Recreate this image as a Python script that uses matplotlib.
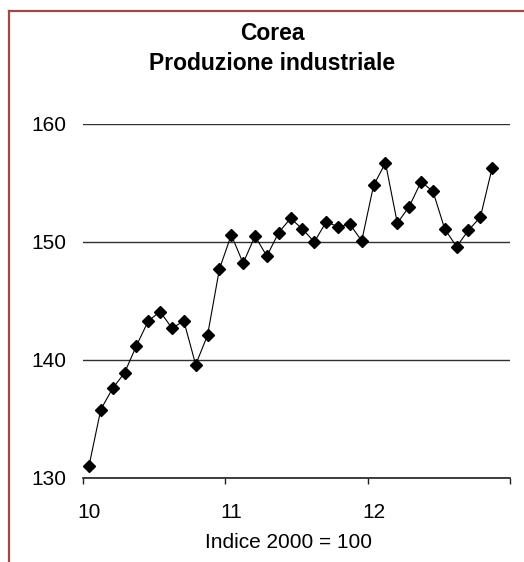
import numpy as np
import matplotlib.pyplot as plt
from matplotlib.lines import Line2D

plt.rcParams['font.family'] = ['Liberation Sans', 'DejaVu Sans']

# Produzione industriale Corea, dati mensili 2010-2012 (indice 2000 = 100)
valori = [131.0, 135.8, 137.6, 138.9, 141.2, 143.3, 144.1, 142.7, 143.3, 139.6, 142.1, 147.7,
          150.6, 148.2, 150.5, 148.8, 150.8, 152.0, 151.1, 150.0, 151.7, 151.3, 151.5, 150.1,
          154.8, 156.7, 151.6, 153.0, 155.1, 154.3, 151.1, 149.6, 151.0, 152.1, 156.3]
anni = ["10", "11", "12"]
mesi_per_anno = 12

fig = plt.figure(figsize=(5.24, 5.62), dpi=100)
ax = fig.add_axes([0.1584, 0.1495, 0.8149, 0.6299])

x = np.arange(len(valori))
ax.plot(x, valori, color='black', lw=0.8, marker='D', markersize=6,
        markerfacecolor='black', markeredgecolor='black', zorder=3)

n_cat = mesi_per_anno * len(anni)
ax.set_xlim(-0.5, n_cat - 0.5)
ax.set_ylim(130, 160)

# tacche sui confini d'anno, etichette sul primo mese
ax.set_xticks(np.arange(0, n_cat + 1, mesi_per_anno) - 0.5)
ax.set_xticklabels([])
ax.set_xticks(np.arange(0, n_cat, mesi_per_anno), minor=True)
ax.set_xticklabels(anni, minor=True)
ax.tick_params(axis='x', which='major', direction='out', length=4.5, width=1, color='#202020')
ax.tick_params(axis='x', which='minor', length=0, pad=18, labelsize=15)

ax.set_yticks([130, 140, 150, 160])
ax.tick_params(axis='y', length=0, pad=12, labelsize=15)
ax.yaxis.grid(True, color='#303030', lw=1)
ax.set_axisbelow(True)

for s in ['left', 'right', 'top']:
    ax.spines[s].set_visible(False)
ax.spines['bottom'].set_color('#202020')
ax.spines['bottom'].set_linewidth(1.2)

fig.text(0.52, 1 - 33 / 562, "Corea", ha='center', va='center',
         fontsize=16.5, fontweight='bold')
fig.text(0.52, 1 - 63 / 562, "Produzione industriale", ha='center', va='center',
         fontsize=16.5, fontweight='bold')
fig.text(0.55, 1 - 543 / 562, "Indice 2000 = 100", ha='center', va='center', fontsize=15)

# cornice
fig.add_artist(Line2D([9 / 524, 9 / 524], [0, 1 - 11 / 562], transform=fig.transFigure,
                      color='#a04848', lw=1.6))
fig.add_artist(Line2D([9 / 524, 1], [1 - 11 / 562, 1 - 11 / 562], transform=fig.transFigure,
                      color='#a04848', lw=1.6))

fig.savefig("out.png", dpi=100)
